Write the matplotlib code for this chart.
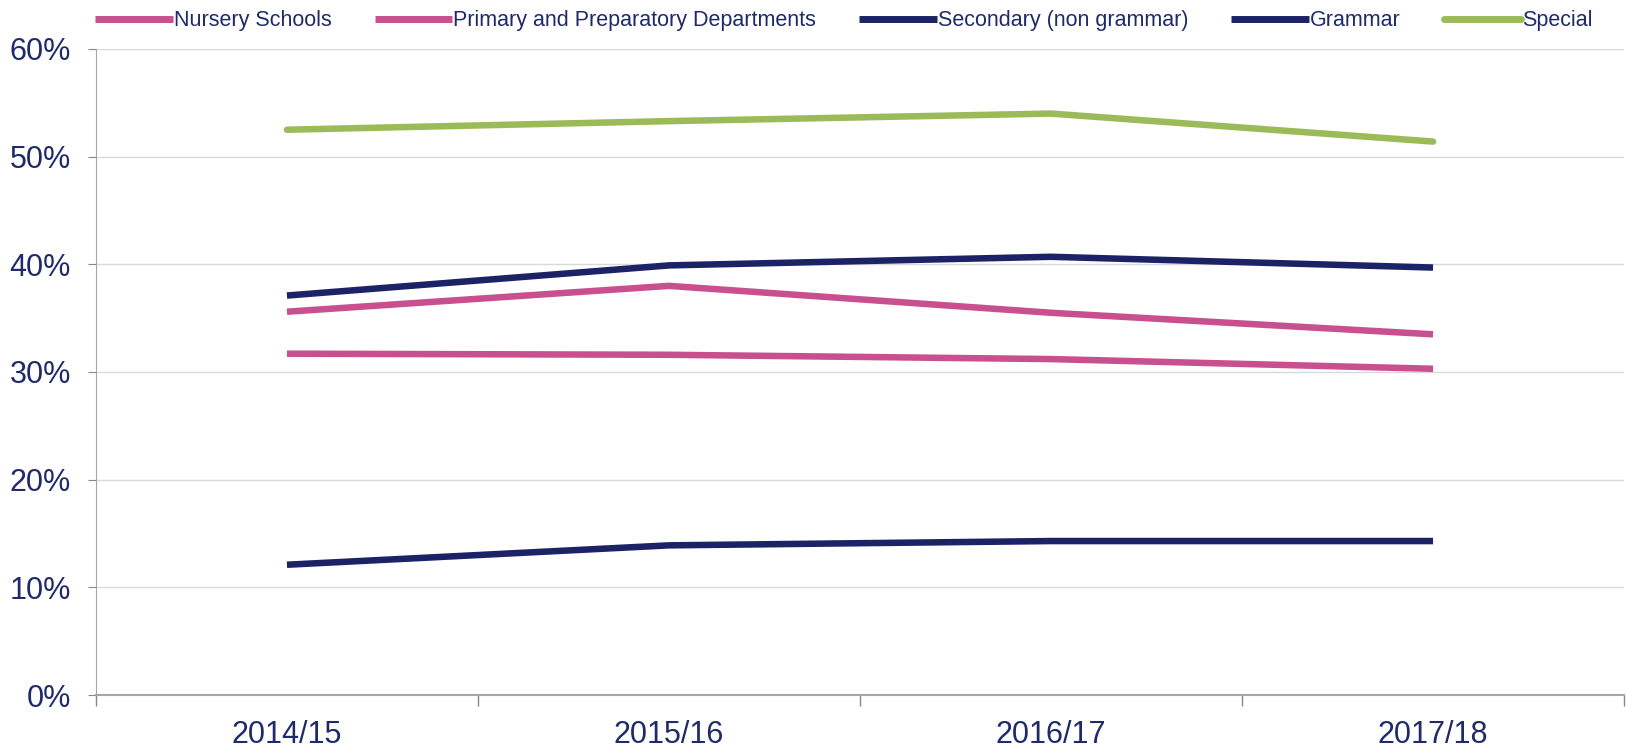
import matplotlib
matplotlib.use("Agg")
import matplotlib.pyplot as plt
from matplotlib.ticker import FuncFormatter

years = ["2014/15", "2015/16", "2016/17", "2017/18"]
nursery = [35.6, 38.0, 35.5, 33.5]
primary = [31.7, 31.6, 31.2, 30.3]
secondary = [37.1, 39.9, 40.7, 39.7]
grammar = [12.1, 13.9, 14.3, 14.3]
special = [52.5, 53.3, 54.0, 51.4]

pink = "#C8508F"
navy = "#1B2366"
green = "#9BBB59"
textcol = "#1F2A6B"

plt.rcParams['font.family'] = ['Liberation Sans', 'DejaVu Sans']

fig = plt.figure(figsize=(16.26, 7.5), dpi=100)
ax = fig.add_axes([0.059, 0.0733, 0.9398, 0.8614])

xs = [i + 0.5 for i in range(len(years))]
lw = 4.7
ax.plot(xs, nursery, color=pink, lw=lw, label="Nursery Schools", solid_capstyle="butt")
ax.plot(xs, primary, color=pink, lw=lw, label="Primary and Preparatory Departments", solid_capstyle="butt")
ax.plot(xs, secondary, color=navy, lw=lw, label="Secondary (non grammar)", solid_capstyle="butt")
ax.plot(xs, grammar, color=navy, lw=lw, label="Grammar", solid_capstyle="butt")
ax.plot(xs, special, color=green, lw=lw, label="Special", solid_capstyle="round")

ax.set_xlim(0, len(years))
ax.set_ylim(0, 60)
ax.set_yticks(range(0, 61, 10))
ax.yaxis.set_major_formatter(FuncFormatter(lambda v, p: f"{int(v)}%"))
ax.grid(axis="y", color="#D9D9D9", lw=1)
ax.set_axisbelow(True)

ax.set_xticks(range(len(years) + 1))
ax.set_xticklabels([])
ax.set_xticks(xs, minor=True)
ax.set_xticklabels(years, minor=True)
ax.tick_params(axis="x", which="major", length=8, color="#888888", width=1)
ax.tick_params(axis="x", which="minor", length=0, pad=18, labelsize=22, labelcolor=textcol)
ax.tick_params(axis="y", length=6, color="#888888", labelsize=22, labelcolor=textcol, pad=12)

for s in ["top", "right"]:
    ax.spines[s].set_visible(False)
ax.spines["left"].set_color("#A6A6A6")
ax.spines["bottom"].set_color("#A6A6A6")
ax.spines["bottom"].set_linewidth(1.5)

leg = fig.legend(loc="upper center", bbox_to_anchor=(0.519, 1.012), ncol=5, frameon=False,
                 fontsize=15.5, handlelength=3.6, handletextpad=0.05, columnspacing=2.0)
for t in leg.get_texts():
    t.set_color(textcol)
for h in leg.get_lines():
    h.set_linewidth(5)

fig.savefig("out.png", dpi=100)
